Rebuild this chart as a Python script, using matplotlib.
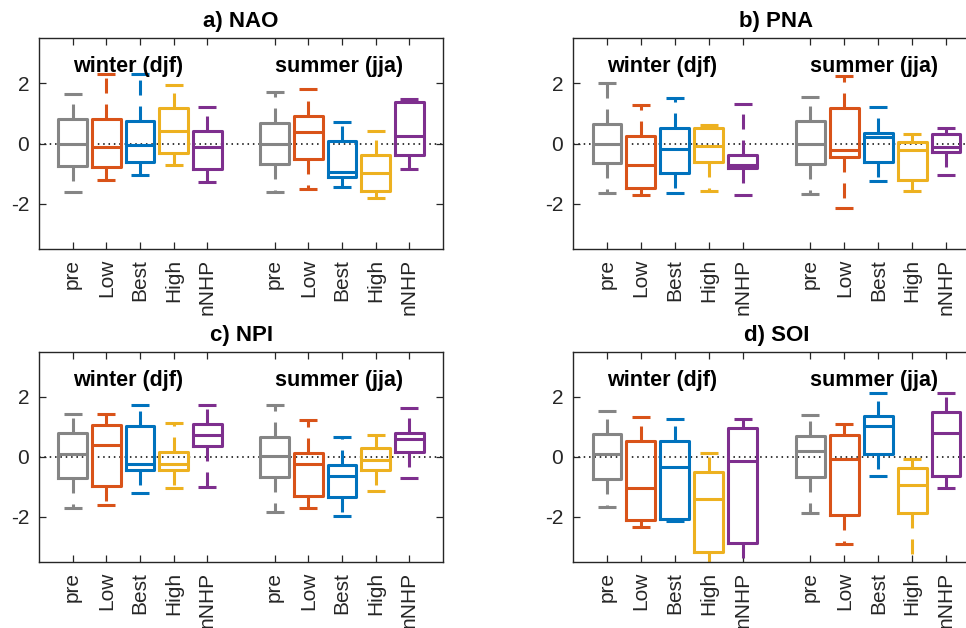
import numpy as np
import matplotlib.pyplot as plt

plt.rcParams['font.family'] = ['Liberation Sans', 'DejaVu Sans']
plt.rcParams['axes.unicode_minus'] = False

groups = ['pre', 'Low', 'Best', 'High', 'nNHP']
colors = ['#858585', '#D95319', '#0072BD', '#EDB120', '#7E2F8E']
seasons = ['winter (djf)', 'summer (jja)']
titles = ['a) NAO', 'b) PNA', 'c) NPI', 'd) SOI']

# each row: lower whisker, q1, median, q3, upper whisker
# rows 0-4 winter (pre, Low, Best, High, nNHP), rows 5-9 summer
nao = np.array([
    [-1.61, -0.74, -0.03, 0.81, 1.64],
    [-1.22, -0.78, -0.11, 0.81, 2.31],
    [-1.03, -0.63, -0.05, 0.76, 2.31],
    [-0.72, -0.33, 0.42, 1.17, 1.94],
    [-1.28, -0.83, -0.11, 0.42, 1.20],
    [-1.61, -0.67, -0.02, 0.67, 1.72],
    [-1.50, -0.52, 0.39, 0.91, 1.80],
    [-1.44, -1.11, -0.94, 0.09, 0.72],
    [-1.80, -1.59, -0.97, -0.39, 0.41],
    [-0.86, -0.39, 0.24, 1.39, 1.48],
])
pna = np.array([
    [-1.64, -0.64, -0.02, 0.64, 2.00],
    [-1.72, -1.47, -0.72, 0.24, 1.29],
    [-1.64, -0.98, -0.17, 0.50, 1.50],
    [-1.59, -0.63, -0.08, 0.53, 0.61],
    [-1.72, -0.80, -0.70, -0.37, 1.31],
    [-1.67, -0.69, 0.00, 0.74, 1.53],
    [-2.13, -0.45, -0.22, 1.17, 2.24],
    [-1.26, -0.61, 0.22, 0.36, 1.20],
    [-1.56, -1.22, -0.22, 0.06, 0.33],
    [-1.06, -0.28, -0.12, 0.31, 0.52],
])
npi = np.array([
    [-1.71, -0.71, 0.09, 0.79, 1.42],
    [-1.61, -0.97, 0.40, 1.06, 1.44],
    [-1.21, -0.43, -0.24, 1.03, 1.73],
    [-1.02, -0.44, -0.24, 0.17, 1.12],
    [-1.00, 0.37, 0.72, 1.10, 1.73],
    [-1.82, -0.66, 0.03, 0.67, 1.73],
    [-1.71, -1.30, -0.24, 0.14, 1.23],
    [-1.97, -1.32, -0.63, -0.28, 0.68],
    [-1.13, -0.43, -0.10, 0.29, 0.72],
    [-0.69, 0.18, 0.61, 0.79, 1.64],
])
soi = np.array([
    [-1.67, -0.72, 0.11, 0.76, 1.53],
    [-2.33, -2.11, -1.04, 0.53, 1.33],
    [-2.13, -2.08, -0.32, 0.53, 1.26],
    [-3.80, -3.17, -1.39, -0.50, 0.14],
    [-3.80, -2.87, -0.13, 0.98, 1.26],
    [-1.86, -0.66, 0.20, 0.70, 1.40],
    [-2.91, -1.93, -0.06, 0.73, 1.09],
    [-0.63, 0.09, 1.03, 1.37, 2.14],
    [-3.80, -1.88, -0.94, -0.38, -0.06],
    [-1.02, -0.63, 0.79, 1.50, 2.14],
])

positions = [1, 2, 3, 4, 5, 7, 8, 9, 10, 11]
W, H = 966, 628
# axes boxes in pixels: left, top, width, height
boxes = [(39, 38, 404, 211), (573, 38, 407, 211),
         (39, 352, 404, 210), (573, 352, 407, 210)]

fig = plt.figure(figsize=(9.66, 6.28), dpi=100)
dark = '#262626'
lw = 2.2

for data, title, (l, t, w, h) in zip([nao, pna, npi, soi], titles, boxes):
    ax = fig.add_axes([l / W, 1 - (t + h) / H, w / W, h / H])
    stats = [dict(whislo=r[0], q1=r[1], med=r[2], q3=r[3], whishi=r[4])
             for r in data]
    art = ax.bxp(stats, positions=positions, widths=0.85, capwidths=0.53,
                 showfliers=False, patch_artist=False,
                 boxprops=dict(linewidth=lw),
                 medianprops=dict(linewidth=lw),
                 capprops=dict(linewidth=lw, solid_capstyle='butt'),
                 whiskerprops=dict(linewidth=lw, linestyle=(0, (4.9, 3.6)),
                                   dash_capstyle='butt'))
    for i in range(10):
        c = colors[i % 5]
        art['boxes'][i].set_color(c)
        art['medians'][i].set_color(c)
        for k in (2 * i, 2 * i + 1):
            art['whiskers'][k].set_color(c)
            art['caps'][k].set_color(c)

    ax.axhline(0, color='black', linestyle=(0, (1, 2.5)), linewidth=1.1,
               zorder=0.5)
    ax.set_xlim(0, 12)
    ax.set_ylim(-3.5, 3.5)
    ax.set_yticks([-2, 0, 2])
    ax.set_xticks(positions, groups * 2, rotation=90)
    ax.tick_params(direction='in', top=True, right=True, length=5,
                   width=0.9, colors=dark, labelsize=15, pad=7)
    for sp in ax.spines.values():
        sp.set_color(dark)
        sp.set_linewidth(1.0)
    ax.text(1, 2.55, seasons[0], fontsize=15.5, fontweight='bold',
            ha='left', va='center')
    ax.text(7, 2.55, seasons[1], fontsize=15.5, fontweight='bold',
            ha='left', va='center')
    ax.set_title(title, fontsize=16, fontweight='bold', pad=8)

fig.savefig('out.png', dpi=100)
